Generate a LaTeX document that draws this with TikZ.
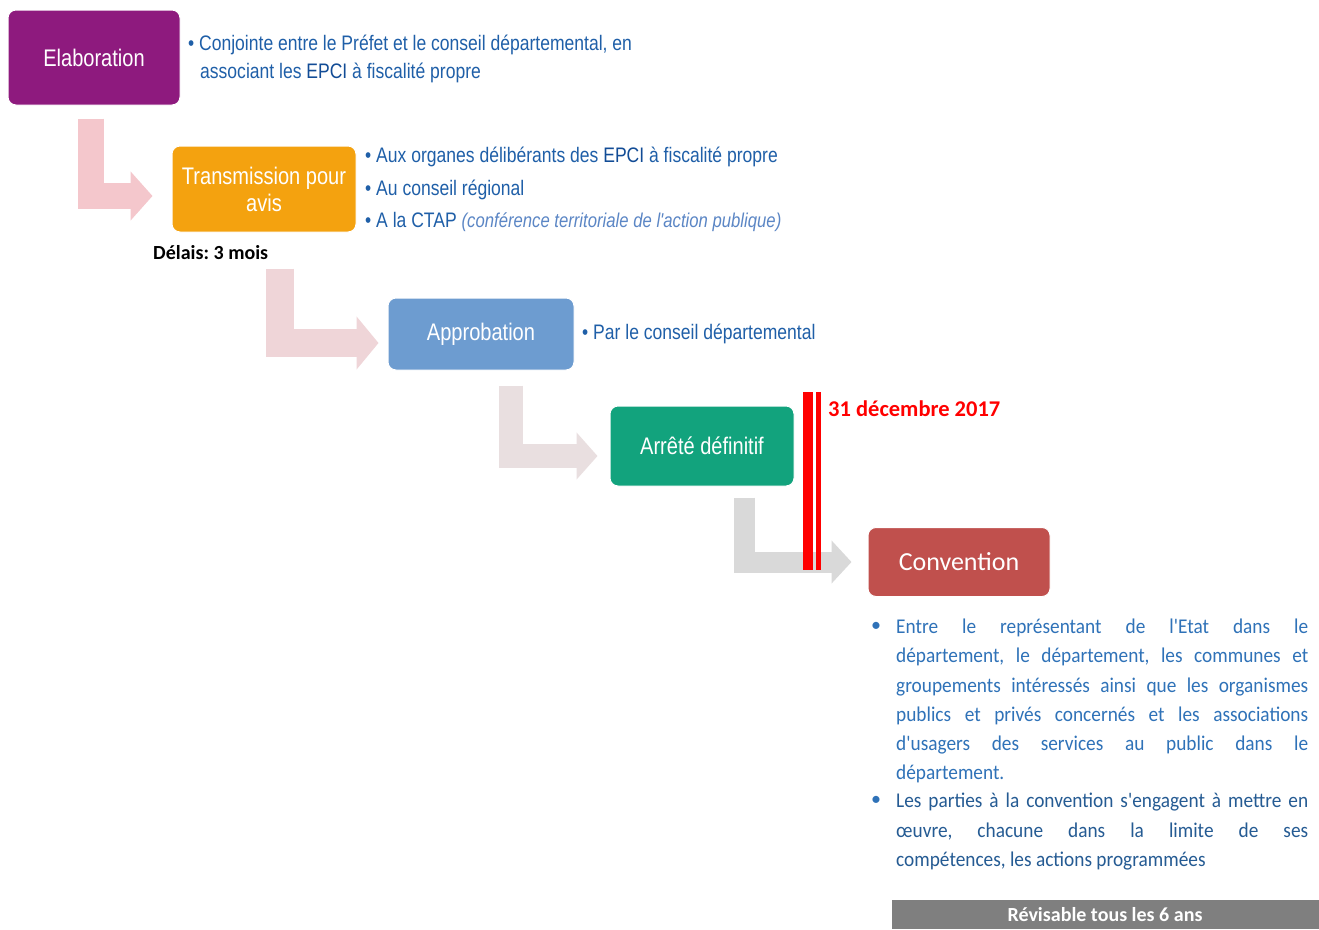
\documentclass[tikz,border=0pt]{standalone}
\usepackage{fontspec}
\usetikzlibrary{arrows.meta,calc}
\setmainfont{Liberation Sans}
\newfontfamily\narfont[FakeStretch=0.835]{Liberation Sans}
\newfontfamily\carlfont{Carlito}
\newfontfamily\carlcfont[FakeStretch=0.92]{Carlito}
\frenchspacing
\definecolor{cpurple}{HTML}{8E1A7E}
\definecolor{corange}{HTML}{F4A20F}
\definecolor{cblue}{HTML}{6D9CD0}
\definecolor{cgreen}{HTML}{12A37D}
\definecolor{cred}{HTML}{C0504D}
\definecolor{txtblue}{HTML}{1F5FA8}
\definecolor{epciblue}{HTML}{124C96}
\definecolor{itblue}{HTML}{5B86C5}
\definecolor{convblue}{HTML}{2F72B8}
\definecolor{pk1}{HTML}{F4C7CC}
\definecolor{pk2}{HTML}{EFD5D8}
\definecolor{pk3}{HTML}{E9DFE0}
\definecolor{pk4}{HTML}{D9D9D9}
\definecolor{barg}{HTML}{7F7F7F}
\tikzset{
  stepbox/.style={rounded corners=8pt, draw=white, line width=1pt, text=white,
    font=\narfont\fontsize{24}{27}\selectfont, align=center, inner sep=0pt},
  bendarrow/.style={line join=miter},
  bullettxt/.style={anchor=west, inner sep=0pt, text=txtblue,
    font=\narfont\fontsize{21}{24}\selectfont},
}
\begin{document}
\begin{tikzpicture}[x=1pt,y=-1pt]
\useasboundingbox (0,0) rectangle (1319,929);
\fill[white] (0,0) rectangle (1319,929);

% boxes
\node[stepbox, fill=cpurple, minimum width=172pt, minimum height=95pt] (elab) at (94,57.5) {Elaboration};
\node[stepbox, fill=corange, minimum width=184pt, minimum height=86pt] (trans) at (264,189) {Transmission pour\\avis};
\node[stepbox, fill=cblue, minimum width=186pt, minimum height=72pt] (appro) at (481,334) {Approbation};
\node[stepbox, fill=cgreen, minimum width=184pt, minimum height=80pt] (arrete) at (702,446) {Arrêté définitif};
\node[stepbox, fill=cred, minimum width=182pt, minimum height=69pt, font=\carlfont\fontsize{26}{30}\selectfont] (conv) at (959,562) {Convention};

% arrow start points
\coordinate (a1) at ($(elab.south west)+(83,13)$);
\coordinate (a2) at ($(trans.south west)+(108,36)$);
\coordinate (a3) at ($(appro.south west)+(123,15)$);
\coordinate (a4) at ($(arrete.south west)+(135,11)$);

\draw[bendarrow, line width=26pt, draw=pk1, color=pk1, -{Triangle[length=22pt,width=48pt]}]
  (a1) |- ([xshift=-19pt,yshift=-7pt]trans.west);
\draw[bendarrow, line width=28pt, draw=pk2, color=pk2, -{Triangle[length=22pt,width=52pt]}]
  (a2) |- ([xshift=-9pt,yshift=-9pt]appro.west);
\draw[bendarrow, line width=24pt, draw=pk3, color=pk3, -{Triangle[length=21pt,width=46pt]}]
  (a3) |- ([xshift=-12pt,yshift=-10pt]arrete.west);
\draw[bendarrow, line width=21pt, draw=pk4, color=pk4, -{Triangle[length=20pt,width=42pt]}]
  (a4) |- ([xshift=-16pt]conv.west);

% red deadline line
\fill[red] (803,392) rectangle (812.5,570);
\fill[red] (815.5,392) rectangle (820.5,570);
\node[anchor=west, inner sep=0pt, text=red, font=\carlfont\bfseries\fontsize{22.5}{25}\selectfont] (date) at (828,409) {31 décembre 2017};

% bullet texts
\node[bullettxt] (t1) at (188,45) {• Conjointe entre le Préfet et le conseil départemental, en};
\node[bullettxt] (t1b) at (200,73) {associant les {\color{epciblue}EPCI} à fiscalité propre};
\node[bullettxt] (t2) at (365,157) {• Aux organes délibérants des {\color{epciblue}EPCI} à fiscalité propre};
\node[bullettxt] (t3) at (365,190) {• Au conseil régional};
\node[bullettxt] (t4) at (365,222) {• A la CTAP {\color{itblue}\itshape\fontsize{20}{22}\selectfont (conférence territoriale de l'action publique)}};
\node[bullettxt] (t5) at (582,334) {• Par le conseil départemental};

\node[anchor=west, inner sep=0pt, font=\carlfont\bfseries\fontsize{20}{22}\selectfont] (delai) at (153,253) {Délais: 3 mois};

% convention texts
\node[anchor=west, inner sep=0pt, text=convblue, font=\carlfont\fontsize{20}{24}\selectfont] (b1) at (871,627) {•};
\node[anchor=north west, inner sep=0pt, text width=412pt, align=justify, text=convblue,
  font=\carlcfont\fontsize{21}{29.2}\selectfont] (p1) at (896,619)
 {Entre le représentant de l'Etat dans le\linebreak
  département, le département, les communes et\linebreak
  groupements intéressés ainsi que les organismes\linebreak
  publics et privés concernés et les associations\linebreak
  d'usagers des services au public dans le\linebreak
  département.};
\node[anchor=west, inner sep=0pt, text=convblue, font=\carlfont\fontsize{20}{24}\selectfont] (b2) at (871,801) {•};
\node[anchor=north west, inner sep=0pt, text width=412pt, align=justify, text=convblue!80!black,
  font=\carlcfont\fontsize{21}{29.5}\selectfont] (p2) at (896,793)
 {Les parties à la convention s'engagent à mettre en\linebreak
  œuvre, chacune dans la limite de ses\linebreak
  compétences, les actions programmées};

% bottom bar
\fill[barg] (892,900) rectangle (1319,929);
\node[text=white, inner sep=0pt, font=\carlfont\bfseries\fontsize{20}{22}\selectfont] (rev) at (1105,915) {Révisable tous les 6 ans};
\end{tikzpicture}
\end{document}
